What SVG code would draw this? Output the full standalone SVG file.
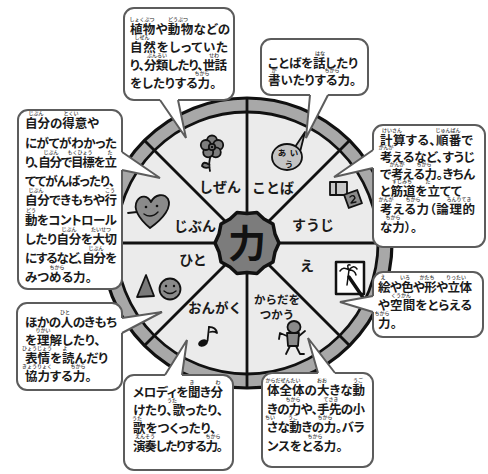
<svg xmlns="http://www.w3.org/2000/svg" width="488" height="474" viewBox="0 0 488 474">
<style>
  .t { font-family: "Noto Sans CJK JP", "Noto Sans", sans-serif; font-size: 12.5px; font-weight: 700; fill: #1a1a1a; font-feature-settings: "palt"; }
  .r { font-family: "Noto Sans CJK JP", "Noto Sans", sans-serif; font-size: 5px; font-weight: 500; fill: #333; text-anchor: middle; }
  .lbl { font-family: "Noto Sans CJK JP", "Noto Sans", sans-serif; font-size: 14px; font-weight: 700; fill: #1a1a1a; text-anchor: middle; }
  .box { fill: #fff; stroke: #5c5c5c; stroke-width: 2; }
  .tailfill { fill: #fff; stroke: none; }
  .tailline { fill: none; stroke: #5c5c5c; stroke-width: 2; stroke-linejoin: miter; }
  .spoke { stroke: #111; stroke-width: 2.8; }
  .ink { stroke: #111; stroke-width: 1.8; stroke-linejoin: round; stroke-linecap: round; }
</style>

<rect width="488" height="474" fill="#fff"/>

<!-- wheel -->
<g id="wheel">
  <circle cx="247" cy="243" r="145" fill="#a8a8a8"/>
  <circle cx="247" cy="243" r="131" fill="#ebebeb" stroke="#111" stroke-width="2.8"/>
  <line class="spoke" x1="247" y1="98" x2="247" y2="388"/>
  <line class="spoke" x1="102" y1="243" x2="392" y2="243"/>
  <line class="spoke" x1="144.5" y1="140.5" x2="349.5" y2="345.5"/>
  <line class="spoke" x1="349.5" y1="140.5" x2="144.5" y2="345.5"/>
  <circle cx="247" cy="243" r="145" fill="none" stroke="#111" stroke-width="3.2"/>
</g>

<!-- centre -->
<g id="center">
  <polygon points="279,243 275,252 273,262 264,267 257,273.5 247,272.5 237,273.5 230,267 221,262 219,252 215,243 219,234 221,224 230,219 237,212.5 247,213.5 257,212.5 264,219 273,224 275,234" fill="#7c7c7c" stroke="#111" stroke-width="3.5" stroke-linejoin="round"/>
  <text x="247" y="257" font-family="'Noto Sans CJK JP', sans-serif" font-size="38" font-weight="700" fill="#111" text-anchor="middle">力</text>
</g>

<!-- segments -->
<g id="seg-shizen">
  <g class="ink" fill="#7d7d7d">
    <path d="M211,155 Q208,163 210,171" fill="none"/>
    <path d="M209.5,165 Q203,160 202,166 Q205,169 209.5,167"/>
    <circle cx="212" cy="140.5" r="5"/>
    <circle cx="218.2" cy="145" r="5"/>
    <circle cx="215.8" cy="152.3" r="5"/>
    <circle cx="208.2" cy="152.3" r="5"/>
    <circle cx="205.8" cy="145" r="5"/>
    <circle cx="212" cy="147" r="3.2"/>
  </g>
  <circle cx="212" cy="147" r="1.3" fill="#111"/>
  <text class="lbl" x="220" y="192">しぜん</text>
</g>

<g id="seg-kotoba">
  <g class="ink" fill="#c4c4c4">
    <polygon points="295,147 305,132 300,152"/>
    <ellipse cx="287" cy="157" rx="15" ry="13"/>
  </g>
  <g font-family="'Noto Sans CJK JP', sans-serif" font-size="8.5" font-weight="700" fill="#111" text-anchor="middle">
    <text x="282" y="156">あ</text>
    <text x="294" y="156">い</text>
    <text x="289" y="167">う</text>
  </g>
  <text class="lbl" x="273" y="193">ことば</text>
</g>

<g id="seg-suuji">
  <g class="ink">
    <rect x="330" y="182" width="17" height="13" fill="#c8c8c8"/>
    <line x1="336" y1="183" x2="336" y2="194"/>
    <rect x="-7" y="-7" width="14" height="14" fill="#8a8a8a" transform="translate(353,199) rotate(-20)"/>
    <path d="M350,197 Q354,194 355,198 L351,203 L356,202" fill="none" stroke-width="1.3"/>
  </g>
  <text class="lbl" x="313" y="230">すうじ</text>
</g>

<g id="seg-jibun">
  <g class="ink" fill="#8a8a8a">
    <path d="M137,212 L128,213" fill="none"/>
    <path d="M150,228 C138,218 133,208 137,201 C141,194 148,196 151,202 C155,194 164,193 168,199 C172,207 164,218 150,228 Z"/>
    <path d="M144,214 Q151,219 158,212" fill="none" stroke-width="1.4"/>
  </g>
  <circle cx="146" cy="207" r="1.3" fill="#111"/>
  <circle cx="157" cy="206" r="1.3" fill="#111"/>
  <text class="lbl" x="195" y="231">じぶん</text>
</g>

<g id="seg-hito">
  <g class="ink" fill="#7a7a7a">
    <polygon points="146,275 137,297 154,296"/>
    <circle cx="170" cy="289" r="10.5" fill="#8a8a8a"/>
    <path d="M164,291 Q170,296 176,291" fill="none" stroke-width="1.4"/>
  </g>
  <circle cx="166" cy="286" r="1.2" fill="#111"/>
  <circle cx="174" cy="286" r="1.2" fill="#111"/>
  <text class="lbl" x="193" y="265">ひと</text>
</g>

<g id="seg-e">
  <g class="ink">
    <rect x="336" y="262" width="28" height="32" fill="#fff" stroke-width="2.5"/>
    <path d="M347,285 L349,270 M349,270 Q343,266 340,271 M349,270 Q346,264 350,265 M349,270 Q354,264 357,269 M349,270 Q355,270 356,275" fill="none" stroke-width="1.5"/>
    <line x1="349" y1="277" x2="364" y2="299" stroke-width="3.5"/>
  </g>
  <text class="lbl" x="307" y="271">え</text>
</g>

<g id="seg-ongaku">
  <ellipse cx="203" cy="343" rx="5" ry="3.5" fill="#111" transform="rotate(-20 203 343)"/>
  <g class="ink" fill="none">
    <line x1="207.5" y1="341" x2="209" y2="327"/>
    <path d="M209,327 Q216,327 217,333 Q214,331 210,332"/>
  </g>
  <text class="lbl" x="215" y="313" style="font-size:13.5px">おんがく</text>
</g>

<g id="seg-karada">
  <g class="ink" fill="#8a8a8a">
    <path d="M287,336 L280,333 L279,339 M299,336 L305,331 M290,346 L286,354 M296,346 L300,354 L304,354" fill="none"/>
    <polygon points="287,333 299,333 298,346 288,346"/>
    <ellipse cx="294" cy="327" rx="6.5" ry="6"/>
  </g>
  <text class="lbl" x="277" y="304" style="font-size:11.5px">からだを</text>
  <text class="lbl" x="277" y="319" style="font-size:11.5px">つかう</text>
</g>

<!-- callouts -->
<g id="note-shizen">
  <rect class="box" x="124" y="8" width="110" height="92" rx="10"/>
  <text class="t" x="130" y="34" textLength="100">植物や動物などの</text>
  <text class="t" x="130" y="52" textLength="98">自然をしっていた</text>
  <text class="t" x="130" y="70" textLength="97">り、分類したり、世話</text>
  <text class="t" x="130" y="88">をしたりする力。</text>
  <text class="r" x="142" y="21">しょくぶつ</text>
  <text class="r" x="178" y="21">どうぶつ</text>
  <text class="r" x="142" y="39">しぜん</text>
  <text class="r" x="157" y="57">ぶんるい</text>
  <text class="r" x="214" y="57">せわ</text>
  <text class="r" x="202" y="75">ちから</text>
</g>

<g id="note-kotoba">
  <rect class="box" x="261" y="39" width="107" height="56" rx="10"/>
  <text class="t" x="268" y="68" textLength="90">ことばを話したり</text>
  <text class="t" x="268" y="85">書いたりする力。</text>
  <text class="r" x="320" y="55">はな</text>
  <text class="r" x="274" y="72">か</text>
  <text class="r" x="332" y="72">ちから</text>
</g>

<g id="note-suuji">
  <rect class="box" x="373" y="125" width="112" height="122" rx="10"/>
  <text class="t" x="380" y="145" textLength="93">計算する、順番で</text>
  <text class="t" x="380" y="162" textLength="95">考えるなど、すうじ</text>
  <text class="t" x="380" y="179" textLength="95">で考える力。きちん</text>
  <text class="t" x="380" y="196">と筋道を立てて</text>
  <text class="t" x="380" y="214" textLength="95">考える力（論理的</text>
  <text class="t" x="380" y="232">な力）。</text>
  <text class="r" x="392" y="132">けいさん</text>
  <text class="r" x="448" y="132">じゅんばん</text>
  <text class="r" x="386" y="149">かんが</text>
  <text class="r" x="397" y="166">かんが</text>
  <text class="r" x="424" y="166">ちから</text>
  <text class="r" x="402" y="183">すじみち</text>
  <text class="r" x="428" y="183">た</text>
  <text class="r" x="386" y="201">かんが</text>
  <text class="r" x="413" y="201">ちから</text>
  <text class="r" x="459" y="201">ろんりてき</text>
  <text class="r" x="393" y="219">ちから</text>
</g>

<g id="note-jibun">
  <rect class="box" x="18" y="110" width="104" height="179" rx="10"/>
  <text class="t" x="25" y="128">自分の得意や</text>
  <text class="t" x="25" y="147.5" textLength="92">にがてがわかった</text>
  <text class="t" x="25" y="166.5" textLength="92">り、自分で目標を立</text>
  <text class="t" x="25" y="186" textLength="90">ててがんばったり、</text>
  <text class="t" x="25" y="205" textLength="92">自分できもちや行</text>
  <text class="t" x="25" y="224.5" textLength="92">動をコントロール</text>
  <text class="t" x="25" y="243.5" textLength="92">したり自分を大切</text>
  <text class="t" x="25" y="263" textLength="92">にするなど、自分を</text>
  <text class="t" x="25" y="282">みつめる力。</text>
  <text class="r" x="36" y="115">じぶん</text>
  <text class="r" x="71" y="115">とくい</text>
  <text class="r" x="51" y="153.5">じぶん</text>
  <text class="r" x="80" y="153.5">もくひょう</text>
  <text class="r" x="110" y="153.5">た</text>
  <text class="r" x="36" y="192">じぶん</text>
  <text class="r" x="110" y="192">こう</text>
  <text class="r" x="31" y="211.5">どう</text>
  <text class="r" x="69" y="230.5">じぶん</text>
  <text class="r" x="101" y="230.5">たいせつ</text>
  <text class="r" x="96" y="250">じぶん</text>
  <text class="r" x="57" y="269">ちから</text>
</g>

<g id="note-hito">
  <rect class="box" x="17" y="303" width="105" height="87" rx="10"/>
  <text class="t" x="25" y="327" textLength="92">ほかの人のきもち</text>
  <text class="t" x="25" y="345">を理解したり、</text>
  <text class="t" x="25" y="363">表情を読んだり</text>
  <text class="t" x="25" y="381">協力する力。</text>
  <text class="r" x="65" y="314">ひと</text>
  <text class="r" x="43" y="332">りかい</text>
  <text class="r" x="37" y="350">ひょうじょう</text>
  <text class="r" x="65" y="350">よ</text>
  <text class="r" x="37" y="368">きょうりょく</text>
  <text class="r" x="78" y="368">ちから</text>
</g>

<g id="note-ongaku">
  <rect class="box" x="124" y="375" width="109" height="95" rx="10"/>
  <text class="t" x="133" y="397" textLength="90">メロディを聞き分</text>
  <text class="t" x="133" y="415" textLength="90">けたり、歌ったり、</text>
  <text class="t" x="133" y="433">歌をつくったり、</text>
  <text class="t" x="133" y="451" textLength="90">演奏したりする力。</text>
  <text class="r" x="192" y="384">き</text>
  <text class="r" x="218" y="384">わ</text>
  <text class="r" x="172" y="402">うた</text>
  <text class="r" x="137" y="420">うた</text>
  <text class="r" x="145" y="438">えんそう</text>
  <text class="r" x="213" y="438">ちから</text>
</g>

<g id="note-karada">
  <rect class="box" x="262" y="373" width="111" height="94" rx="10"/>
  <text class="t" x="267" y="395" textLength="98">体全体の大きな動</text>
  <text class="t" x="267" y="414" textLength="98">きの力や、手先の小</text>
  <text class="t" x="267" y="432" textLength="98">さな動きの力。バラ</text>
  <text class="t" x="267" y="451">ンスをとる力。</text>
  <text class="r" x="283" y="382">からだぜんたい</text>
  <text class="r" x="322" y="382">おお</text>
  <text class="r" x="358" y="382">うご</text>
  <text class="r" x="293" y="401">ちから</text>
  <text class="r" x="331" y="401">てさき</text>
  <text class="r" x="270" y="419">ちい</text>
  <text class="r" x="293" y="419">うご</text>
  <text class="r" x="325" y="419">ちから</text>
  <text class="r" x="315" y="438">ちから</text>
</g>

<g id="note-e">
  <rect class="box" x="373" y="272" width="110" height="65" rx="10"/>
  <text class="t" x="378" y="292" textLength="94">絵や色や形や立体</text>
  <text class="t" x="378" y="310" textLength="94">や空間をとらえる</text>
  <text class="t" x="378" y="328">力。</text>
  <text class="r" x="383" y="279">え</text>
  <text class="r" x="405" y="279">いろ</text>
  <text class="r" x="427" y="279">かたち</text>
  <text class="r" x="456" y="279">りったい</text>
  <text class="r" x="401" y="297">くうかん</text>
  <text class="r" x="382" y="315">ちから</text>
</g>

<!-- pointers from each note into its segment -->
<g id="connectors">
  <polygon class="tailfill" points="160,97 160,100 186,138 178,100 178,97"/>
  <path class="tailline" d="M160,100 L186,138 L178,100"/>
  <polygon class="tailfill" points="310,92 310,95 306,138 328,95 328,92"/>
  <path class="tailline" d="M310,95 L306,138 L328,95"/>
  <polygon class="tailfill" points="376,150 373,150 334,177 373,168 376,168"/>
  <path class="tailline" d="M373,150 L334,177 L373,168"/>
  <polygon class="tailfill" points="119,152 122,152 160,178 122,170 119,170"/>
  <path class="tailline" d="M122,152 L160,178 L122,170"/>
  <polygon class="tailfill" points="119,318 122,318 162,312 122,333 119,333"/>
  <path class="tailline" d="M122,318 L162,312 L122,333"/>
  <polygon class="tailfill" points="165,378 165,375 187,340 182,375 182,378"/>
  <path class="tailline" d="M165,375 L187,340 L182,375"/>
  <polygon class="tailfill" points="318,376 318,373 308,338 335,373 335,376"/>
  <path class="tailline" d="M318,373 L308,338 L335,373"/>
  <polygon class="tailfill" points="376,296 373,296 340,302 373,312 376,312"/>
  <path class="tailline" d="M373,296 L340,302 L373,312"/>
</g>
</svg>
